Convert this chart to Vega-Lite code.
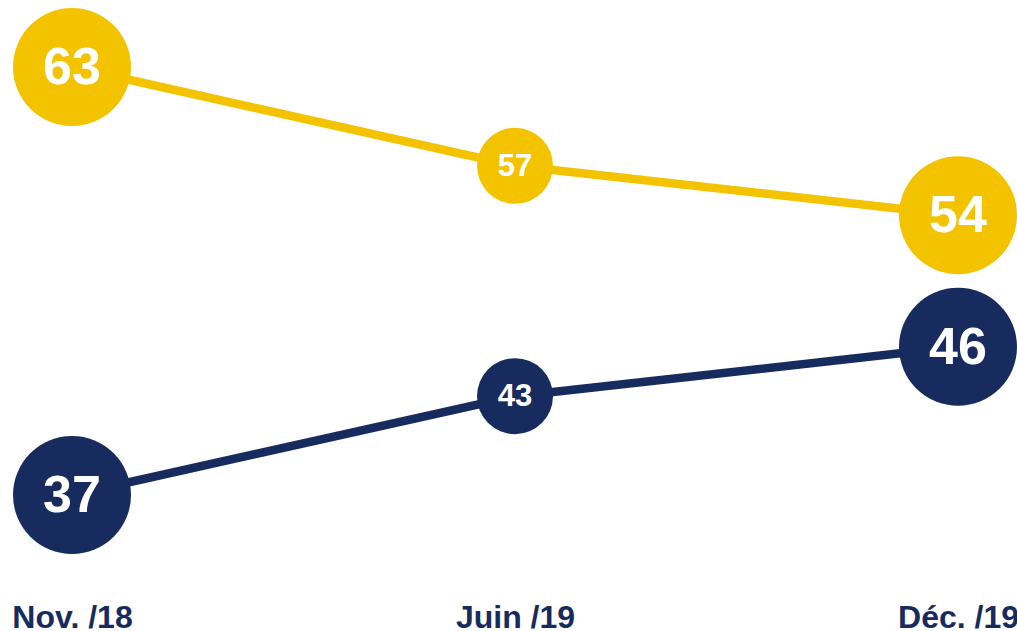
{
  "$schema": "https://vega.github.io/schema/vega-lite/v6.json",
  "width": 886,
  "height": 597,
  "padding": {"left": 72, "right": 59, "top": 0, "bottom": 34},
  "autosize": {"type": "none"},
  "background": "white",
  "config": {"view": {"stroke": null}, "font": "Liberation Sans"},
  "data": {
    "values": [
      {"date": "Nov. /18", "series": "A", "value": 63},
      {"date": "Juin /19", "series": "A", "value": 57},
      {"date": "Déc. /19", "series": "A", "value": 54},
      {"date": "Nov. /18", "series": "B", "value": 37},
      {"date": "Juin /19", "series": "B", "value": 43},
      {"date": "Déc. /19", "series": "B", "value": 46}
    ]
  },
  "resolve": {"scale": {"size": "independent"}},
  "encoding": {
    "x": {
      "field": "date",
      "type": "ordinal",
      "sort": ["Nov. /18", "Juin /19", "Déc. /19"],
      "scale": {"type": "point", "padding": 0},
      "axis": {
        "title": null,
        "domain": false,
        "ticks": false,
        "grid": false,
        "labelAngle": 0,
        "labelFont": "Liberation Sans",
        "labelFontSize": 32,
        "labelFontWeight": "bold",
        "labelColor": "#172B5E",
        "labelPadding": 5,
        "labelOverlap": false,
        "labelBound": false,
        "labelLimit": 400
      }
    },
    "y": {
      "field": "value",
      "type": "quantitative",
      "scale": {"domain": [37, 63], "range": [495, 67], "zero": false, "nice": false},
      "axis": null
    }
  },
  "layer": [
    {
      "mark": {"type": "line", "strokeWidth": 8.5},
      "encoding": {
        "color": {
          "field": "series",
          "type": "nominal",
          "scale": {"domain": ["A", "B"], "range": ["#F4C300", "#172B5E"]},
          "legend": null
        }
      }
    },
    {
      "mark": {"type": "point", "shape": "circle", "filled": true, "opacity": 1},
      "encoding": {
        "color": {
          "field": "series",
          "type": "nominal",
          "scale": {"domain": ["A", "B"], "range": ["#F4C300", "#172B5E"]},
          "legend": null
        },
        "size": {
          "field": "date",
          "type": "nominal",
          "scale": {"type": "ordinal", "domain": ["Nov. /18", "Juin /19", "Déc. /19"], "range": [13924, 5776, 13924]},
          "legend": null
        }
      }
    },
    {
      "mark": {"type": "text", "color": "white", "fontWeight": "bold", "font": "Liberation Sans", "baseline": "middle", "align": "center", "dy": 1},
      "encoding": {
        "text": {"field": "value", "type": "quantitative"},
        "size": {
          "field": "date",
          "type": "nominal",
          "scale": {"type": "ordinal", "domain": ["Nov. /18", "Juin /19", "Déc. /19"], "range": [52, 31, 52]},
          "legend": null
        }
      }
    }
  ]
}
